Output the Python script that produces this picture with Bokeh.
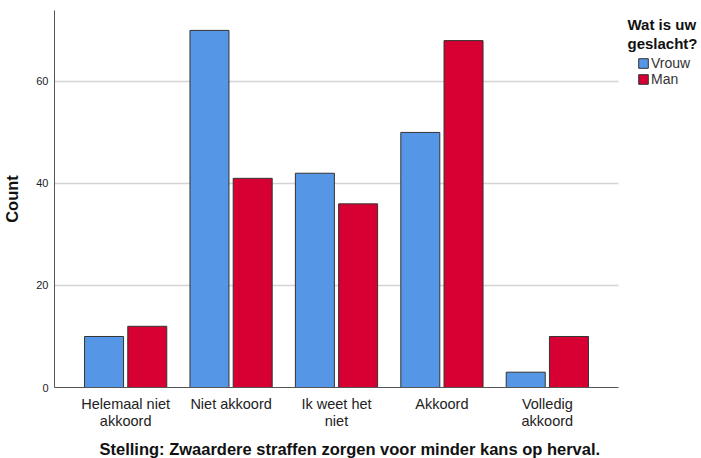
from bokeh.plotting import figure
from bokeh.models import ColumnDataSource, Legend, LegendItem, FixedTicker, Range1d, Label, Title
from bokeh.transform import dodge
from bokeh.embed import file_html
from bokeh.resources import INLINE

categories = ["Helemaal niet\nakkoord", "Niet akkoord", "Ik weet het\nniet", "Akkoord", "Volledig\nakkoord"]
vrouw = [10, 70, 42, 50, 3]
man = [12, 41, 36, 68, 10]
series_names = ["Vrouw", "Man"]
legend_title = "Wat is uw\ngeslacht?"
x_title = "Stelling: Zwaardere straffen zorgen voor minder kans op herval."
y_title = "Count"
colors = ["#5596E6", "#D60033"]
y_ticks = [0, 20, 40, 60]

xs = list(range(len(categories)))
src = ColumnDataSource(dict(x=xs, vrouw=vrouw, man=man))

x_lo, x_hi = -0.675, 4.675
x_view_hi = x_lo + (x_hi - x_lo) * 647 / 564

p = figure(frame_width=647, frame_height=377, output_backend="svg", toolbar_location=None,
           x_range=Range1d(x_lo, x_view_hi), y_range=Range1d(0, 73.9),
           min_border_left=54, min_border_right=0, min_border_top=10, min_border_bottom=0)
p.outline_line_color = None

r1 = p.vbar(x=dodge("x", -0.205), top="vrouw", width=0.37, source=src,
            fill_color=colors[0], line_color="#333333", line_width=1)
r2 = p.vbar(x=dodge("x", 0.205), top="man", width=0.37, source=src,
            fill_color=colors[1], line_color="#333333", line_width=1)

p.xaxis.bounds = (x_lo, x_hi)
p.xaxis.ticker = FixedTicker(ticks=xs)
p.xaxis.major_label_overrides = {i: c for i, c in enumerate(categories)}
p.xaxis.major_tick_line_color = None
p.xaxis.major_tick_out = 0
p.xaxis.minor_tick_line_color = None
p.xaxis.minor_tick_out = 0
p.xaxis.axis_line_color = "#555555"
p.xaxis.major_label_text_font = "Liberation Sans"
p.xaxis.major_label_text_font_size = "14.5px"
p.xaxis.major_label_text_line_height = 1.1
p.xaxis.major_label_text_color = "#222222"
p.xaxis.major_label_standoff = 8

p.yaxis.ticker = FixedTicker(ticks=y_ticks)
p.yaxis.major_tick_line_color = None
p.yaxis.major_tick_out = 0
p.yaxis.minor_tick_line_color = None
p.yaxis.minor_tick_out = 0
p.yaxis.axis_line_color = "#555555"
p.yaxis.major_label_text_font = "Liberation Sans"
p.yaxis.major_label_text_font_size = "11px"
p.yaxis.major_label_text_color = "#222222"
p.yaxis.major_label_standoff = 6
p.yaxis.axis_label = y_title
p.yaxis.axis_label_text_font = "Liberation Sans"
p.yaxis.axis_label_text_font_style = "bold"
p.yaxis.axis_label_text_font_size = "16.5px"
p.yaxis.axis_label_text_color = "#111111"
p.yaxis.axis_label_standoff = 12

p.xgrid.grid_line_color = None
p.ygrid.ticker = FixedTicker(ticks=[20, 40, 60])
p.ygrid.cross_bounds = (x_lo, x_hi)
p.ygrid.grid_line_color = "#d4d4d4"
p.ygrid.grid_line_width = 1.5

xt = Title(text=x_title, align="left", offset=45, text_font="Liberation Sans",
           text_font_style="bold", text_font_size="16.5px", text_color="#111111",
           standoff=10)
p.add_layout(xt, "below")

legend = Legend(items=[LegendItem(label=series_names[0], renderers=[r1]),
                       LegendItem(label=series_names[1], renderers=[r2])],
                location=(583, 300))
legend.label_text_font = "Liberation Sans"
legend.label_text_font_size = "14px"
legend.label_text_color = "#333333"
legend.glyph_width = 12
legend.glyph_height = 12
legend.label_standoff = 2
legend.spacing = 0
legend.label_height = 14
legend.padding = 0
legend.margin = 0
legend.border_line_color = None
legend.background_fill_alpha = 0
p.add_layout(legend)

title = Label(x=573, y=372, x_units="screen", y_units="screen", text=legend_title,
              text_font="Liberation Sans", text_font_style="bold", text_font_size="15px",
              text_line_height=1.15, text_baseline="top", text_align="left", text_color="#111111")
p.add_layout(title)

open("out.html", "w").write(file_html(p, INLINE))
